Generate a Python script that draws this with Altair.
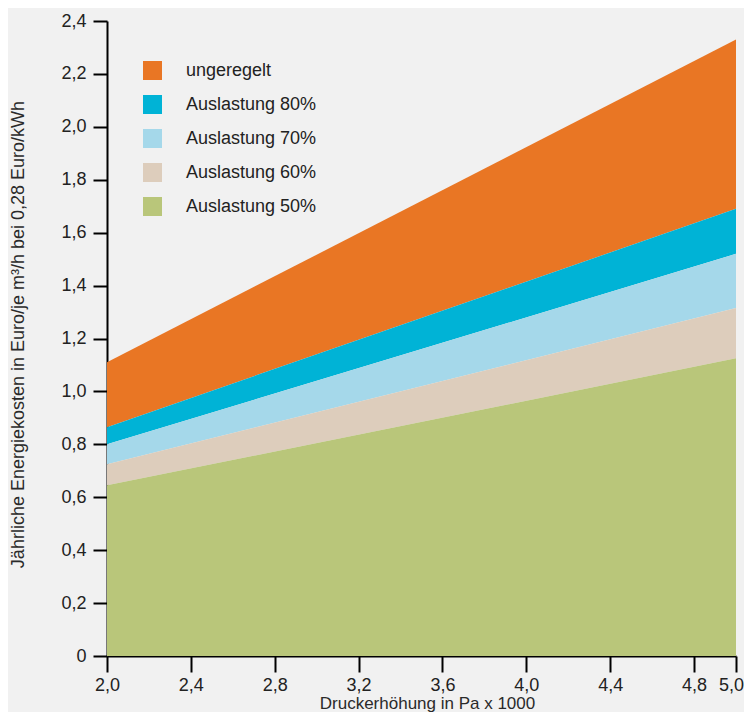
import altair as alt
import pandas as pd

# ---- data ----
x_vals = [2.0, 5.0]
series = ["ungeregelt", "Auslastung 80%", "Auslastung 70%", "Auslastung 60%", "Auslastung 50%"]
top_ungeregelt = [1.11, 2.33]
top_80 = [0.865, 1.69]
top_70 = [0.80, 1.52]
top_60 = [0.725, 1.315]
top_50 = [0.645, 1.125]
tops = [top_ungeregelt, top_80, top_70, top_60, top_50]
colors = ["#E97624", "#00B3D6", "#A5D8EA", "#DDCDBC", "#B9C67A"]
x_ticks = [2.0, 2.4, 2.8, 3.2, 3.6, 4.0, 4.4, 4.8, 5.0]
y_ticks = [0, 0.2, 0.4, 0.6, 0.8, 1.0, 1.2, 1.4, 1.6, 1.8, 2.0, 2.2, 2.4]

rows = []
for i, s in enumerate(series):
    lower = tops[i + 1] if i + 1 < len(series) else [0.0] * len(x_vals)
    for j, x in enumerate(x_vals):
        rows.append({"x": x, "lo": lower[j], "hi": tops[i][j], "Serie": s})
df = pd.DataFrame(rows)

FONT = "Liberation Sans"

chart = alt.Chart(df).mark_area(opacity=1, interpolate="linear").encode(
    x=alt.X(
        "x:Q",
        scale=alt.Scale(domain=[2.0, 5.0], nice=False, zero=False),
        axis=alt.Axis(
            values=x_ticks,
            labelExpr="replace(format(datum.value, '.1f'), '.', ',')",
            labelOffset={"condition": {"test": "datum.value == 5", "value": -5}, "value": 0},
            title="Druckerhöhung in Pa x 1000",
            titleX=320, titleY=52, titleAlign="center", titleBaseline="alphabetic",
            titleFont=FONT, titleFontSize=17, titleFontWeight="normal", titleColor="#2a2a2a",
            grid=False, domainColor="black", domainWidth=2,
            tickColor="black", tickWidth=2, tickSize=16,
            labelPadding=4, labelFont=FONT, labelFontSize=18, labelColor="#222222",
            labelOverlap=False, labelFlush=False,
        ),
    ),
    y=alt.Y(
        "hi:Q",
        scale=alt.Scale(domain=[0, 2.4], nice=False),
        axis=alt.Axis(
            values=y_ticks,
            labelExpr="datum.value == 0 ? '0' : replace(format(datum.value, '.1f'), '.', ',')",
            title="Jährliche Energiekosten in Euro/je m³/h bei 0,28 Euro/kWh",
            titleX=-84, titleY=313, titleAngle=270, titleAlign="center", titleBaseline="alphabetic",
            titleFont=FONT, titleFontSize=18, titleFontWeight="normal", titleColor="#2a2a2a",
            grid=False, domainColor="black", domainWidth=2,
            tickColor="black", tickWidth=2, tickSize=14,
            labelPadding=7, labelFont=FONT, labelFontSize=18, labelColor="#222222",
            labelOverlap=False, labelFlush=False,
        ),
    ),
    y2="lo:Q",
    color=alt.Color(
        "Serie:N",
        scale=alt.Scale(domain=series, range=colors),
        legend=alt.Legend(
            title=None, orient="none", legendX=36, legendY=40,
            symbolType="square", symbolSize=361, symbolStrokeWidth=0, symbolOpacity=1,
            labelFont=FONT, labelFontSize=18, labelColor="#222222",
            labelOffset=24, rowPadding=15, padding=0,
        ),
    ),
).properties(
    width=629,
    height=635,
    autosize="none",
    padding={"left": 99, "top": 13, "right": 8, "bottom": 56},
    background="#f1f1f1",
).configure_view(stroke=None)

chart.save("out.html", embed_options={"renderer": "svg", "actions": False})
